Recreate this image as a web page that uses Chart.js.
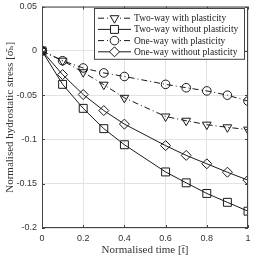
<!DOCTYPE html>
<html>
<head>
<meta charset="utf-8">
<script src="https://cdn.jsdelivr.net/npm/chart.js@4.4.0/dist/chart.umd.min.js"></script>
<style>
  html, body { margin: 0; padding: 0; background: #fff; }
  #wrap { width: 255px; height: 258px; }
</style>
</head>
<body>
<div id="wrap"><canvas id="myChart" width="255" height="258"></canvas></div>
<script>
// Data
const times = [0, 0.1, 0.2, 0.3, 0.4, 0.6, 0.7, 0.8, 0.9, 1];
const twoWayPlastic = [0, -0.0111, -0.0241, -0.0382, -0.053, -0.0741, -0.0789, -0.0833, -0.0863, -0.0889];
const twoWayElastic = [0, -0.0378, -0.0649, -0.0878, -0.106, -0.1367, -0.149, -0.161, -0.171, -0.181];
const oneWayPlastic = [0, -0.0111, -0.0193, -0.0249, -0.0289, -0.0378, -0.0416, -0.0452, -0.05, -0.0567];
const oneWayElastic = [0, -0.0268, -0.0493, -0.0674, -0.0827, -0.107, -0.118, -0.1275, -0.137, -0.146];
const seriesNames = ['Two-way with plasticity', 'Two-way without plasticity', 'One-way with plasticity', 'One-way without plasticity'];
const xTicks = [0, 0.2, 0.4, 0.6, 0.8, 1];
const xTickLabels = ['0', '0.2', '0.4', '0.6', '0.8', '1'];
const yTicks = [0.05, 0, -0.05, -0.1, -0.15, -0.2];
const yTickLabels = ['0.05', '0', '-0.05', '-0.1', '-0.15', '-0.2'];

const lineColor = '#1a1a1a';
const axisColor = '#444';
const dashDot = [6, 3, 1, 3];

function toPoints(values) {
    return times.map((t, i) => ({ x: t, y: values[i] }));
}

function makeSet(label, values, dash, style, radius, rotation) {
    return {
        label: label,
        data: toPoints(values),
        borderColor: lineColor,
        borderWidth: 1,
        borderDash: dash,
        pointStyle: style,
        pointRadius: radius,
        pointRotation: rotation,
        pointBorderColor: lineColor,
        pointBorderWidth: 1,
        pointBackgroundColor: 'rgba(0,0,0,0)',
        tension: 0,
        fill: false
    };
}

// Draw a marker the same way for legend entries
function drawMarker(ctx, ds, x, y) {
    const r = ds.pointRadius;
    ctx.save();
    ctx.setLineDash([]);
    ctx.strokeStyle = ds.pointBorderColor;
    ctx.lineWidth = 1;
    ctx.fillStyle = '#fff';
    ctx.beginPath();
    if (ds.pointStyle === 'circle') {
        ctx.arc(x, y, r, 0, Math.PI * 2);
    } else if (ds.pointStyle === 'rect') {
        const s = Math.SQRT1_2 * r;
        ctx.rect(x - s, y - s, 2 * s, 2 * s);
    } else if (ds.pointStyle === 'rectRot') {
        ctx.moveTo(x, y - r);
        ctx.lineTo(x + r, y);
        ctx.lineTo(x, y + r);
        ctx.lineTo(x - r, y);
        ctx.closePath();
    } else if (ds.pointStyle === 'triangle') {
        const rot = (ds.pointRotation || 0) * Math.PI / 180;
        for (let k = 0; k < 3; k++) {
            const a = rot - Math.PI / 2 + k * 2 * Math.PI / 3;
            const px = x + Math.cos(a) * r;
            const py = y + Math.sin(a) * r;
            if (k === 0) ctx.moveTo(px, py); else ctx.lineTo(px, py);
        }
        ctx.closePath();
    }
    ctx.fill();
    ctx.stroke();
    ctx.restore();
}

// Axes box with inward ticks, like the original figure
const boxPlugin = {
    id: 'boxPlugin',
    afterDatasetsDraw(chart) {
        const { ctx, chartArea: a, scales } = chart;
        ctx.save();
        ctx.strokeStyle = axisColor;
        ctx.lineWidth = 1;
        ctx.strokeRect(a.left + 0.5, a.top + 0.5, a.right - a.left - 1, a.bottom - a.top - 1);
        ctx.beginPath();
        xTicks.forEach(t => {
            const px = Math.round(scales.x.getPixelForValue(t)) + 0.5;
            ctx.moveTo(px, a.bottom); ctx.lineTo(px, a.bottom - 3);
            ctx.moveTo(px, a.top); ctx.lineTo(px, a.top + 3);
        });
        yTicks.forEach(t => {
            const py = Math.round(scales.y.getPixelForValue(t)) + 0.5;
            ctx.moveTo(a.left, py); ctx.lineTo(a.left + 3, py);
            ctx.moveTo(a.right, py); ctx.lineTo(a.right - 3, py);
        });
        ctx.stroke();
        ctx.restore();
    }
};

// Legend drawn inside the plot area (top right)
const insideLegend = {
    id: 'insideLegend',
    afterDraw(chart) {
        const { ctx, chartArea: a } = chart;
        const sets = chart.data.datasets;
        const boxW = 150, rowH = 11.2, boxH = rowH * sets.length + 6;
        const bx = a.right - boxW - 4, by = a.top + 1.5;
        ctx.save();
        ctx.fillStyle = '#fff';
        ctx.fillRect(bx, by, boxW, boxH);
        ctx.strokeStyle = axisColor;
        ctx.lineWidth = 1;
        ctx.strokeRect(Math.round(bx) + 0.5, Math.round(by) + 0.5, boxW, boxH);
        ctx.font = '9.5px "Liberation Serif", "DejaVu Serif", serif';
        ctx.textBaseline = 'middle';
        ctx.fillStyle = '#1a1a1a';
        sets.forEach((ds, i) => {
            const y = by + 4 + rowH * (i + 0.5) + 0.5;
            const x0 = bx + 4, x1 = bx + 37;
            ctx.save();
            ctx.strokeStyle = ds.borderColor;
            ctx.setLineDash(ds.borderDash || []);
            ctx.beginPath();
            ctx.moveTo(x0, y); ctx.lineTo(x1, y);
            ctx.stroke();
            ctx.restore();
            drawMarker(ctx, ds, (x0 + x1) / 2, y);
            ctx.fillText(ds.label, x1 + 3, y + 0.5);
        });
        ctx.restore();
    }
};

const ctx = document.getElementById('myChart').getContext('2d');
const chart = new Chart(ctx, {
    type: 'line',
    data: {
        datasets: [
            makeSet(seriesNames[0], twoWayPlastic, dashDot, 'triangle', 5, 180),
            makeSet(seriesNames[1], twoWayElastic, [], 'rect', 5.6, 0),
            makeSet(seriesNames[2], oneWayPlastic, dashDot, 'circle', 4.3, 0),
            makeSet(seriesNames[3], oneWayElastic, [], 'rectRot', 5, 0)
        ]
    },
    options: {
        responsive: false,
        animation: false,
        devicePixelRatio: 1,
        layout: { padding: { top: 3, right: 7, left: 0, bottom: 0 } },
        plugins: {
            legend: { display: false },
            tooltip: { enabled: false }
        },
        scales: {
            x: {
                type: 'linear',
                min: 0,
                max: 1,
                afterBuildTicks: scale => { scale.ticks = xTicks.map(v => ({ value: v })); },
                afterFit: scale => {
                    scale.height = 30;
                    scale.paddingLeft = 0;
                    scale.paddingRight = 0;
                },
                grid: { color: '#e3e3e3', drawTicks: false },
                border: { display: false },
                ticks: {
                    padding: 5,
                    color: '#333',
                    font: { family: '"Liberation Sans", Arial, sans-serif', size: 9 },
                    callback: (v) => xTickLabels[xTicks.indexOf(v)]
                },
                title: {
                    display: true,
                    text: 'Normalised time [t\u0304]',
                    color: '#333',
                    font: { family: '"Liberation Serif", "DejaVu Serif", serif', size: 11 },
                    padding: { top: 0, bottom: 1 }
                }
            },
            y: {
                type: 'linear',
                min: -0.2,
                max: 0.05,
                afterBuildTicks: scale => { scale.ticks = yTicks.map(v => ({ value: v })); },
                afterFit: scale => {
                    scale.width = 42;
                    scale.paddingTop = 0;
                    scale.paddingBottom = 0;
                },
                grid: { color: '#e3e3e3', drawTicks: false },
                border: { display: false },
                ticks: {
                    padding: 5,
                    color: '#333',
                    font: { family: '"Liberation Sans", Arial, sans-serif', size: 9 },
                    callback: (v) => yTickLabels[yTicks.indexOf(v)]
                },
                title: {
                    display: true,
                    text: 'Normalised hydrostatic stress [\u03c3\u0304\u2095]',
                    color: '#333',
                    font: { family: '"Liberation Serif", "DejaVu Serif", serif', size: 11 },
                    padding: { top: 4, bottom: 0 }
                }
            }
        }
    },
    plugins: [boxPlugin, insideLegend]
});
</script>
</body>
</html>
